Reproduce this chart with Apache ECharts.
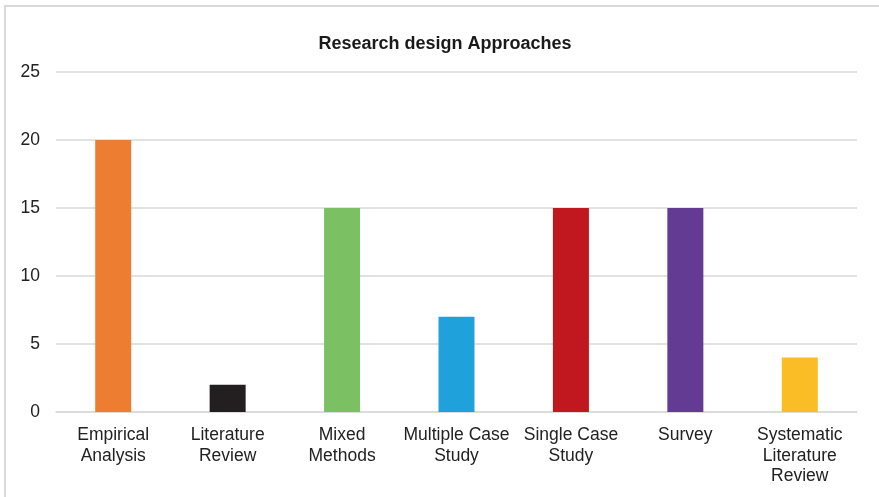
<!DOCTYPE html>
<html>
<head>
<meta charset="utf-8">
<script src="https://cdn.jsdelivr.net/npm/echarts@6/dist/echarts.min.js"></script>
<style>
  html, body { margin: 0; padding: 0; background: #fff; }
  #chart { width: 879px; height: 497px; }
</style>
</head>
<body>
<div id="chart"></div>
<script>
// Research design approaches: number of studies per approach
const categories = [
  'Empirical\nAnalysis',
  'Literature\nReview',
  'Mixed\nMethods',
  'Multiple Case\nStudy',
  'Single Case\nStudy',
  'Survey',
  'Systematic\nLiterature\nReview'
];
const counts = [20, 2, 15, 7, 15, 15, 4];
const barColors = ['#ED7D31', '#231F20', '#7BC063', '#1FA1DC', '#C1181F', '#633B93', '#FABD26'];
const yTicks = { min: 0, max: 25, interval: 5 };

const chart = echarts.init(document.getElementById('chart'), null, { renderer: 'canvas' });

chart.setOption({
  animation: false,
  backgroundColor: '#fff',
  title: {
    text: 'Research design Approaches',
    left: 440,
    top: 30,
    textAlign: 'center',
    textStyle: { fontFamily: 'Liberation Sans, Arial', fontSize: 18, fontWeight: 'bold', color: '#1a1a1a' }
  },
  graphic: [{
    type: 'rect',
    shape: { x: 5, y: 6, width: 900, height: 520 },
    style: { fill: 'none', stroke: '#d9d9d9', lineWidth: 2 },
    silent: true
  }],
  grid: { left: 56, right: 22, top: 72, bottom: 85 },
  xAxis: {
    type: 'category',
    data: categories,
    axisLine: { show: true, lineStyle: { color: '#d9d9d9', width: 1.5 } },
    axisTick: { show: false },
    axisLabel: {
      interval: 0,
      margin: 13,
      fontFamily: 'Liberation Sans, Arial',
      fontSize: 17.5,
      lineHeight: 20.5,
      color: '#222'
    }
  },
  yAxis: {
    type: 'value',
    min: yTicks.min,
    max: yTicks.max,
    interval: yTicks.interval,
    axisLine: { show: false },
    axisTick: { show: false },
    splitLine: { lineStyle: { color: '#d9d9d9', width: 1.5 } },
    axisLabel: {
      margin: 16,
      fontFamily: 'Liberation Sans, Arial',
      fontSize: 17.5,
      color: '#222'
    }
  },
  series: [{
    type: 'bar',
    data: counts.map((v, i) => ({ value: v, itemStyle: { color: barColors[i] } })),
    barWidth: 36
  }]
});
</script>
</body>
</html>
